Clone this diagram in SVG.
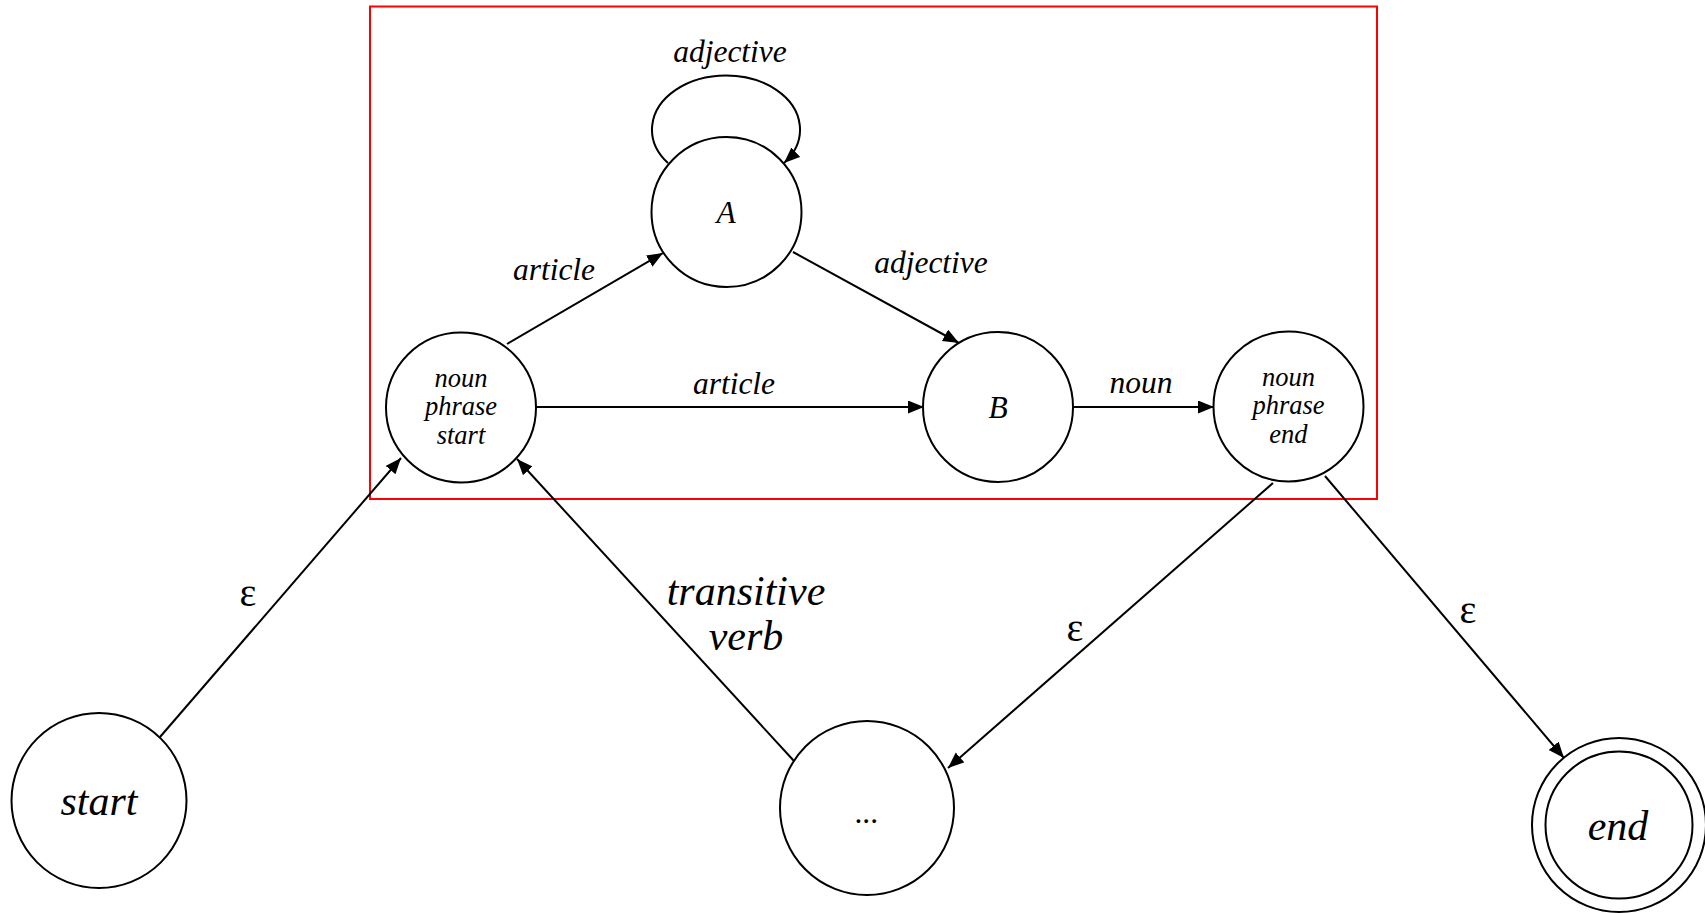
<svg xmlns="http://www.w3.org/2000/svg" width="1705" height="913" viewBox="0 0 1705 913">
  <defs>
    <marker id="arrow" markerUnits="userSpaceOnUse" markerWidth="17" markerHeight="14" refX="16" refY="6.5" orient="auto">
      <path d="M0,0 L16,6.5 L0,13 z" fill="#000"/>
    </marker>
  </defs>
  <style>
    .state { fill: #fff; stroke: #000; stroke-width: 2; }
    .edge { fill: none; stroke: #000; stroke-width: 2; marker-end: url(#arrow); }
    text { font-style: italic; fill: #000; text-anchor: middle; }
    .big { font-size: 42px; }
    .lbl { font-size: 31.5px; }
    .small { font-size: 26.5px; }
    .eps { font-style: normal; font-size: 40px; }
  </style>
  <rect width="1705" height="913" fill="#fff"/>

  <g font-family="'Liberation Serif', 'DejaVu Serif', serif">
  <!-- noun phrase sub-network frame -->
  <rect id="np-frame" x="370" y="6.5" width="1007" height="492.5" fill="none" stroke="#ff0000" stroke-width="2"/>

  <g id="connectors">
    <path class="edge" d="M 160 737 L 401 458"/>
    <path class="edge" d="M 794 761 L 517 459"/>
    <path class="edge" d="M 1273 483 L 948 768"/>
    <path class="edge" d="M 1325 476 L 1564 758"/>
    <path class="edge" d="M 507 344 L 663 253"/>
    <path class="edge" d="M 793 252 L 959 343"/>
    <path class="edge" d="M 536 407 L 924 407"/>
    <path class="edge" d="M 1073 407 L 1214 407"/>
    <path class="edge" d="M 668 163 A 74 54 0 1 1 784 163"/>

    <text class="lbl" x="730" y="62">adjective</text>
    <text class="lbl" x="554" y="280">article</text>
    <text class="lbl" x="931" y="273">adjective</text>
    <text class="lbl" x="734" y="394">article</text>
    <text class="lbl" x="1141" y="393">noun</text>
    <text class="big" x="746" y="605">transitive</text>
    <text class="big" x="746" y="650">verb</text>
    <text class="eps" x="248" y="606">ε</text>
    <text class="eps" x="1075" y="641">ε</text>
    <text class="eps" x="1468" y="623">ε</text>
  </g>

  <g id="node-start">
    <circle class="state" cx="99" cy="800.5" r="87.5"/>
    <text class="big" x="99" y="815">start</text>
  </g>

  <g id="node-np-start">
    <circle class="state" cx="461" cy="407.5" r="75"/>
    <text class="small" x="461" y="387">noun</text>
    <text class="small" x="461" y="415">phrase</text>
    <text class="small" x="461" y="444">start</text>
  </g>

  <g id="node-a">
    <circle class="state" cx="726.5" cy="212" r="75"/>
    <text class="lbl" x="726" y="223">A</text>
  </g>

  <g id="node-b">
    <circle class="state" cx="998" cy="407" r="75"/>
    <text class="lbl" x="998" y="418">B</text>
  </g>

  <g id="node-np-end">
    <circle class="state" cx="1288.5" cy="406.5" r="75"/>
    <text class="small" x="1288.5" y="386">noun</text>
    <text class="small" x="1288.5" y="414">phrase</text>
    <text class="small" x="1288.5" y="443">end</text>
  </g>

  <g id="node-verb-phrase">
    <circle class="state" cx="867" cy="808" r="87"/>
    <text class="lbl" x="867" y="823">...</text>
  </g>

  <g id="node-end">
    <circle class="state" cx="1619" cy="825" r="87"/>
    <circle class="state" cx="1619" cy="825" r="73.5"/>
    <text class="big" x="1618" y="840">end</text>
  </g>
  </g>
</svg>
